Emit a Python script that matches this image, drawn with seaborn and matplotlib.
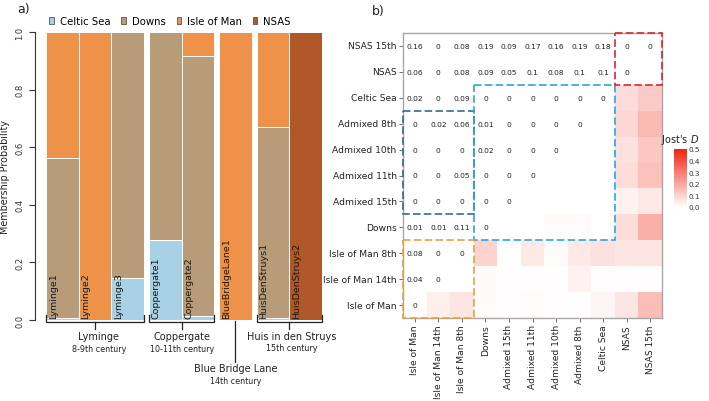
import numpy as np
import pandas as pd
import matplotlib
matplotlib.use("Agg")
import matplotlib.pyplot as plt
import seaborn as sns
from matplotlib.colors import LinearSegmentedColormap
from matplotlib.patches import Patch, Rectangle

# ---------------- panel a data ----------------
samples = ["Lyminge1", "Lyminge2", "Lyminge3", "Coppergate1", "Coppergate2",
           "BlueBridgeLane1", "HuisDenStruys1", "HuisDenStruys2"]
sample_group = [0, 0, 0, 1, 1, 2, 3, 3]
celtic_sea = [0.006, 0.0, 0.146, 0.278, 0.015, 0.0, 0.007, 0.0]
downs = [0.557, 0.0, 0.854, 0.722, 0.903, 0.0, 0.664, 0.0]
isle_of_man = [0.437, 1.0, 0.0, 0.0, 0.082, 1.0, 0.329, 0.0]
nsas = [0.0, 0.0, 0.0, 0.0, 0.0, 0.0, 0.0, 1.0]
components = ["Celtic Sea", "Downs", "Isle of Man", "NSAS"]
comp_colors = ["#A9D1E6", "#B89C7A", "#EE9249", "#B0582A"]
group_names = ["Lyminge", "Coppergate", "Blue Bridge Lane", "Huis in den Struys"]
group_periods = ["8-9th century", "10-11th century", "14th century", "15th century"]

# ---------------- panel b data ----------------
pop_rows = ["NSAS 15th", "NSAS", "Celtic Sea", "Admixed 8th", "Admixed 10th",
            "Admixed 11th", "Admixed 15th", "Downs", "Isle of Man 8th",
            "Isle of Man 14th", "Isle of Man"]
pop_cols = ["Isle of Man", "Isle of Man 14th", "Isle of Man 8th", "Downs",
            "Admixed 15th", "Admixed 11th", "Admixed 10th", "Admixed 8th",
            "Celtic Sea", "NSAS", "NSAS 15th"]
upper_values = [
    [0.16, 0, 0.08, 0.19, 0.09, 0.17, 0.16, 0.19, 0.18, 0, 0],
    [0.06, 0, 0.08, 0.09, 0.05, 0.1, 0.08, 0.1, 0.1, 0],
    [0.02, 0, 0.09, 0, 0, 0, 0, 0, 0],
    [0, 0.02, 0.06, 0.01, 0, 0, 0, 0],
    [0, 0, 0, 0.02, 0, 0, 0],
    [0, 0, 0.05, 0, 0, 0],
    [0, 0, 0, 0, 0],
    [0.01, 0.01, 0.11, 0],
    [0.08, 0, 0],
    [0.04, 0],
    [0],
]
jost_d = [
    [],
    [0.0],
    [0.08, 0.12],
    [0.0, 0.09, 0.16],
    [0.0, 0.0, 0.07, 0.13],
    [0.0, 0.0, 0.0, 0.08, 0.14],
    [0.0, 0.0, 0.0, 0.0, 0.03, 0.05],
    [0.0, 0.0, 0.01, 0.01, 0.0, 0.08, 0.18],
    [0.10, 0.0, 0.05, 0.01, 0.05, 0.07, 0.06, 0.06],
    [0.0, 0.01, 0.004, 0.004, 0.004, 0.03, 0.004, 0.004, 0.004],
    [0.04, 0.06, 0.01, 0.004, 0.01, 0.004, 0.004, 0.02, 0.06, 0.15],
]

W, H = 709, 402
def fx(px):
    return px / W
def fy(py):
    return 1 - py / H

fig = plt.figure(figsize=(W / 100, H / 100), dpi=100)

# ================= panel a =================
unit = 32.67
axA = fig.add_axes([fx(35), fy(321), fx(322) - fx(35), fy(33) - fy(321)])
gap = 0.15
positions = []
cur = 0.0
for i, g in enumerate(sample_group):
    if i > 0 and g != sample_group[i - 1]:
        cur += gap
    positions.append(cur + 0.5)
    cur += 1.0
x_end = cur

stack = np.cumsum(np.array([celtic_sea, downs, isle_of_man, nsas]), axis=0)
for k in reversed(range(len(components))):
    df = pd.DataFrame({"pos": positions, "value": stack[k]})
    sns.barplot(data=df, x="pos", y="value", native_scale=True, orient="x",
                color=comp_colors[k], saturation=1, width=1.0, errorbar=None,
                edgecolor="white", linewidth=0.7, ax=axA)

axA.set_xlim(-11 / unit, x_end)
axA.set_ylim(0, 1)
axA.set_xticks([])
axA.set_xlabel("")
for s in ["top", "right", "bottom"]:
    axA.spines[s].set_visible(False)
axA.spines["left"].set_bounds(0, 1)
axA.spines["left"].set_linewidth(0.8)
axA.spines["left"].set_color("#333333")
yt = [0, 0.2, 0.4, 0.6, 0.8, 1.0]
axA.set_yticks(yt)
axA.set_yticklabels([f"{v:.1f}" for v in yt], rotation=90, va="center")
axA.tick_params(axis="y", length=4.5, width=0.8, color="#333333",
                labelsize=6.0, labelcolor="#333333", pad=3)
axA.set_ylabel("Membership Probability", fontsize=6.9, color="#222222", labelpad=4)

for p, name in zip(positions, samples):
    axA.text(p - 0.5 + 0.22, 0.007, name, rotation=90, ha="center", va="bottom",
             fontsize=6.8, color="#1a1a1a")

def dy(py):
    return (321 - py) / 288.0

lab_x_px = [99, 182, 236, 292]
name_y_px = [337, 337, 369.5, 337.5]
per_y_px = [350, 350, 381.5, 348.5]
for gi in range(len(group_names)):
    idx = [i for i, g in enumerate(sample_group) if g == gi]
    x0 = positions[idx[0]] - 0.5
    x1 = positions[idx[-1]] + 0.5
    xc = (x0 + x1) / 2
    if len(idx) > 1:
        axA.plot([x0, x0, x1, x1], [dy(316), dy(323.3), dy(323.3), dy(316)],
                 color="#222222", lw=0.9, clip_on=False, solid_joinstyle="miter")
        axA.plot([xc, xc], [dy(323.3), dy(330)], color="#222222", lw=0.9, clip_on=False)
    else:
        axA.plot([xc, xc], [dy(322), dy(363)], color="#222222", lw=0.9, clip_on=False)
    lx = (lab_x_px[gi] - 46) / unit
    axA.text(lx, dy(name_y_px[gi]), group_names[gi], ha="center", va="center",
             fontsize=7.0, color="#222222", clip_on=False)
    axA.text(lx, dy(per_y_px[gi]), group_periods[gi], ha="center", va="center",
             fontsize=5.8, color="#222222", clip_on=False)

handles = [Patch(facecolor=c, edgecolor="#555555", linewidth=0.6) for c in comp_colors]
fig.legend(handles, components, loc="center", bbox_to_anchor=(fx(170), fy(22)),
           ncol=4, frameon=False, fontsize=7.3, handlelength=0.45, handleheight=0.8,
           handletextpad=0.55, columnspacing=1.1, borderaxespad=0, borderpad=0)

fig.text(fx(24), fy(10), "a)", fontsize=9, ha="center", va="center", color="#222222")
fig.text(fx(378), fy(11), "b)", fontsize=9, ha="center", va="center", color="#222222")

# ================= panel b =================
n = len(pop_rows)
color_data = np.zeros((n, n))
annot = np.full((n, n), "", dtype=object)
for i in range(n):
    for j, v in enumerate(upper_values[i]):
        annot[i, j] = f"{v:g}"
    start = n - len(jost_d[i])
    for k, v in enumerate(jost_d[i]):
        color_data[i, start + k] = v
hm_df = pd.DataFrame(color_data, index=pop_rows, columns=pop_cols)

axB = fig.add_axes([fx(403), fy(319), fx(662) - fx(403), fy(34) - fy(319)])
cax = fig.add_axes([fx(674), fy(208), fx(687) - fx(674), fy(150) - fy(208)])
cmap = LinearSegmentedColormap.from_list("jost", ["#FFFFFF", "#F2230F"])
sns.heatmap(hm_df, ax=axB, cmap=cmap, vmin=0, vmax=0.5, annot=annot, fmt="",
            annot_kws={"size": 5.4, "color": "#222222"}, cbar_ax=cax,
            cbar_kws={"ticks": [0, 0.1, 0.2, 0.3, 0.4, 0.5], "format": "%.1f"},
            xticklabels=pop_cols, yticklabels=pop_rows, linewidths=0)
axB.tick_params(axis="both", length=3, width=0.6, color="#555555",
                labelsize=6.6, labelcolor="#222222", pad=1.5)
axB.set_xticklabels(pop_cols, rotation=90)
axB.set_yticklabels(pop_rows, rotation=0)
for s in axB.spines.values():
    s.set_visible(True)
    s.set_edgecolor("#A8A8A8")
    s.set_linewidth(1.0)

dash = (0, (4.5, 2))
boxes = [((0, 3), 3, 4, "#2E6E8E"), ((3, 2), 6, 6, "#2AA7DE"),
         ((0, 8), 3, 3, "#E6A23E"), ((9, 0), 2, 2, "#D9262C")]
for (x0, y0), w, h, c in boxes:
    axB.add_patch(Rectangle((x0, y0), w, h, fill=False, edgecolor=c, lw=1.2,
                            linestyle=dash, clip_on=False, zorder=5))

cax.tick_params(length=0, labelsize=5.2, pad=1, labelcolor="#333333")
cax.set_title("Jost's $\\mathit{D}$", fontsize=7, pad=5, color="#222222")

fig.savefig("out.png", dpi=100)
